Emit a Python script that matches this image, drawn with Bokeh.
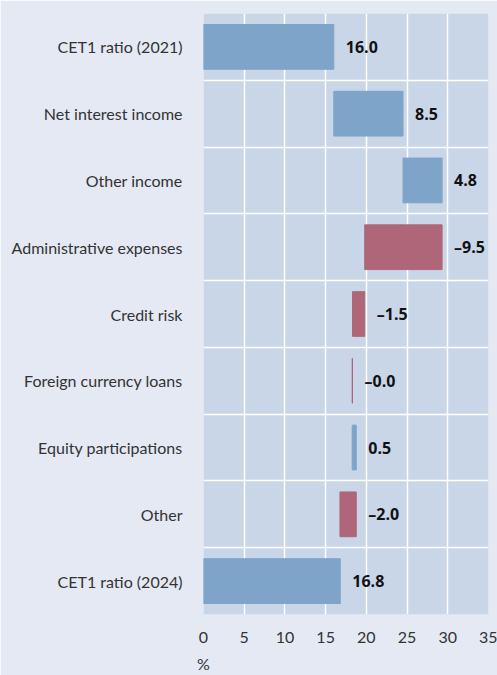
from bokeh.plotting import figure
from bokeh.models import FixedTicker, ColumnDataSource
from bokeh.embed import file_html
from bokeh.resources import INLINE
from bokeh.core.properties import value

categories = ["CET1 ratio (2021)", "Net interest income", "Other income",
              "Administrative expenses", "Credit risk", "Foreign currency loans",
              "Equity participations", "Other", "CET1 ratio (2024)"]
changes = [16.0, 8.5, 4.8, -9.5, -1.5, -0.04, 0.5, -2.0, 16.8]
is_total = [True, False, False, False, False, False, False, False, True]
x_ticks = [0, 5, 10, 15, 20, 25, 30, 35]
x_unit = "%"

BLUE = "#7fa4c9"
RED = "#ae6678"
OUTER = "#e4e9f4"
FRAME = "#c9d6e8"

n = len(categories)
lefts, rights, ys, colors, labels, lab_x = [], [], [], [], [], []
running = 0.0
for i, (c, v, tot) in enumerate(zip(categories, changes, is_total)):
    if tot:
        start, end = 0.0, v
        running = v
    else:
        start, end = running, running + v
        running = end
    lefts.append(min(start, end))
    rights.append(max(start, end))
    ys.append(n - 1 - i)
    colors.append(BLUE if v >= 0 else RED)
    labels.append(f"{v:.1f}".replace("-", "\u2013"))
    lab_x.append(max(start, end))

src = ColumnDataSource(dict(left=lefts, right=rights, y=ys, color=colors,
                            label=labels, lx=lab_x))

p = figure(width=497, height=675, output_backend="svg", toolbar_location=None,
           x_range=(0, 35), y_range=(-0.5, n - 0.5))
p.min_border_left = 203
p.min_border_right = 9
p.min_border_top = 13
p.min_border_bottom = 0
p.background_fill_color = FRAME
p.border_fill_color = OUTER
p.outline_line_color = None

p.hbar(y="y", left="left", right="right", height=0.67, color="color",
       line_color="color", line_width=1, source=src)
p.text(x="lx", y="y", text="label", source=src, x_offset=12,
       text_align="left", text_baseline="middle",
       text_font=value("Open Sans"), text_font_style="bold",
       text_font_size="16px", text_color="#111111")

p.xaxis.ticker = FixedTicker(ticks=x_ticks)
p.yaxis.ticker = FixedTicker(ticks=list(range(n)))
p.yaxis.major_label_overrides = {n - 1 - i: c for i, c in enumerate(categories)}
for ax in (p.xaxis[0], p.yaxis[0]):
    ax.axis_line_color = None
    ax.major_tick_line_color = None
    ax.minor_tick_line_color = None
    ax.major_label_text_font = "Lato"
    ax.major_label_text_font_size = "16px"
    ax.major_label_text_color = "#333333"
p.yaxis.major_label_standoff = 15
p.xaxis.major_label_standoff = 11
p.xaxis.major_label_text_line_height = 1.0

p.xaxis.axis_label = x_unit
p.xaxis.axis_label_align = "start"
p.xaxis.axis_label_text_align = "left"
p.xaxis.axis_label_standoff = 8
p.xaxis.axis_label_text_line_height = 0.9
p.xaxis.axis_label_text_font = "Lato"
p.xaxis.axis_label_text_font_style = "normal"
p.xaxis.axis_label_text_font_size = "16px"
p.xaxis.axis_label_text_color = "#333333"

p.xgrid.ticker = FixedTicker(ticks=x_ticks)
p.ygrid.ticker = FixedTicker(ticks=[k + 0.5 for k in range(n - 1)])
for g in (p.xgrid[0], p.ygrid[0]):
    g.grid_line_color = "white"
    g.grid_line_width = 1.5

html = file_html(p, INLINE)
html = html.replace("<body>", '<body style="margin:0;background:%s">' % OUTER, 1)
open("out.html", "w").write(html)
